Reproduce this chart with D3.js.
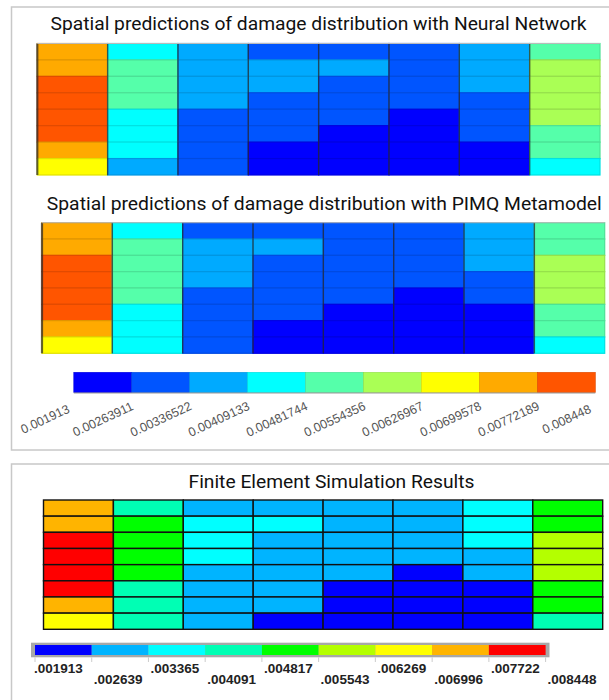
<!DOCTYPE html>
<html lang="en">
<head>
<meta charset="UTF-8">
<title>Damage distribution comparison</title>
<script src="https://d3js.org/d3.v7.min.js"></script>
<style>
  body { margin: 0; background: #fff; }
  svg { display: block; }
  .title { font-family: Roboto, sans-serif; font-size: 18px; fill: #111; }
  .cb-label { font-family: "Liberation Sans", Arial, sans-serif; font-size: 12.5px; fill: #555; }
  .fe-label { font-family: "Liberation Sans", Arial, sans-serif; font-size: 13.5px; font-weight: bold; fill: #222; }
</style>
</head>
<body>
<svg id="chart" width="609" height="700"></svg>
<script>
// ---- data ----
const vMin = 0.001913, vMax = 0.008448;

// level colours
const predColors = ["#0000ff", "#0055ff", "#00aaff", "#00ffff", "#55ffaa", "#aaff55", "#ffff00", "#ffaa00", "#ff5500"];
const feColors   = ["#0000ff", "#00b4ff", "#00ffff", "#00ffb4", "#00ff00", "#b4ff00", "#ffff00", "#ffb400", "#ff0000"];

const predTicks = ["0.001913", "0.00263911", "0.00336522", "0.00409133", "0.00481744",
                   "0.00554356", "0.00626967", "0.00699578", "0.00772189", "0.008448"];
const feTicks = [".001913", ".002639", ".003365", ".004091", ".004817",
                 ".005543", ".006269", ".006996", ".007722", ".008448"];

// damage values, 8 rows (top to bottom) x 8 columns
const nnValues = [
  [0.00736, 0.00445, 0.00373, 0.00300, 0.00300, 0.00300, 0.00373, 0.00518],
  [0.00736, 0.00518, 0.00373, 0.00373, 0.00373, 0.00300, 0.00373, 0.00591],
  [0.00808, 0.00518, 0.00373, 0.00373, 0.00300, 0.00300, 0.00373, 0.00591],
  [0.00808, 0.00518, 0.00373, 0.00300, 0.00300, 0.00300, 0.00300, 0.00591],
  [0.00808, 0.00445, 0.00300, 0.00300, 0.00300, 0.00228, 0.00300, 0.00591],
  [0.00808, 0.00445, 0.00300, 0.00300, 0.00228, 0.00228, 0.00300, 0.00518],
  [0.00736, 0.00445, 0.00300, 0.00228, 0.00228, 0.00228, 0.00228, 0.00518],
  [0.00663, 0.00373, 0.00300, 0.00228, 0.00228, 0.00228, 0.00228, 0.00445]
];

const pimqValues = [
  [0.00736, 0.00445, 0.00300, 0.00300, 0.00300, 0.00300, 0.00373, 0.00518],
  [0.00736, 0.00518, 0.00373, 0.00373, 0.00300, 0.00300, 0.00373, 0.00518],
  [0.00808, 0.00518, 0.00373, 0.00300, 0.00300, 0.00300, 0.00373, 0.00591],
  [0.00808, 0.00518, 0.00373, 0.00300, 0.00300, 0.00300, 0.00300, 0.00591],
  [0.00808, 0.00518, 0.00300, 0.00300, 0.00300, 0.00228, 0.00300, 0.00591],
  [0.00808, 0.00445, 0.00300, 0.00300, 0.00228, 0.00228, 0.00228, 0.00518],
  [0.00736, 0.00445, 0.00300, 0.00228, 0.00228, 0.00228, 0.00228, 0.00518],
  [0.00663, 0.00445, 0.00300, 0.00228, 0.00228, 0.00228, 0.00228, 0.00445]
];

const feValues = [
  [0.00736, 0.00445, 0.00300, 0.00300, 0.00300, 0.00300, 0.00373, 0.00518],
  [0.00736, 0.00518, 0.00373, 0.00373, 0.00300, 0.00300, 0.00373, 0.00518],
  [0.00808, 0.00518, 0.00373, 0.00300, 0.00300, 0.00300, 0.00373, 0.00591],
  [0.00808, 0.00518, 0.00373, 0.00300, 0.00300, 0.00300, 0.00300, 0.00591],
  [0.00808, 0.00518, 0.00300, 0.00300, 0.00300, 0.00228, 0.00300, 0.00591],
  [0.00808, 0.00445, 0.00300, 0.00300, 0.00228, 0.00228, 0.00228, 0.00518],
  [0.00736, 0.00445, 0.00300, 0.00300, 0.00228, 0.00228, 0.00228, 0.00518],
  [0.00663, 0.00445, 0.00300, 0.00228, 0.00228, 0.00228, 0.00228, 0.00445]
];

// ---- drawing ----
const svg = d3.select("#chart");

const predColor = d3.scaleQuantize().domain([vMin, vMax]).range(predColors);
const feColor = d3.scaleQuantize().domain([vMin, vMax]).range(feColors);

// panel frames (right side runs off the picture)
svg.append("rect").attr("x", 11.5).attr("y", 7).attr("width", 640).attr("height", 443)
  .attr("fill", "none").attr("stroke", "#c8c8c8").attr("stroke-width", 1.5);
svg.append("rect").attr("x", 11.5).attr("y", 464).attr("width", 640).attr("height", 300)
  .attr("fill", "none").attr("stroke", "#c8c8c8").attr("stroke-width", 1.5);

function title(text, cx, y, len) {
  svg.append("text").attr("class", "title")
    .attr("x", cx).attr("y", y).attr("text-anchor", "middle")
    .attr("textLength", len).attr("lengthAdjust", "spacingAndGlyphs")
    .text(text);
}

function predGrid(values, x0, x1, y0, y1) {
  const x = d3.scaleBand().domain(d3.range(8)).range([x0, x1]);
  const y = d3.scaleBand().domain(d3.range(8)).range([y0, y1]);
  const g = svg.append("g");
  values.forEach((row, r) => {
    g.selectAll(null).data(row).enter().append("rect")
      .attr("x", (d, c) => x(c)).attr("y", y(r))
      .attr("width", x.bandwidth()).attr("height", y.bandwidth())
      .attr("fill", d => predColor(d))
      .attr("stroke", d => d3.color(predColor(d)).darker(0.35))
      .attr("stroke-width", 1.2);
  });
  // column separators
  g.selectAll(".col").data(d3.range(8)).enter().append("line")
    .attr("x1", c => x(c)).attr("x2", c => x(c))
    .attr("y1", y0).attr("y2", y1)
    .attr("stroke", "rgba(40,40,40,0.7)").attr("stroke-width", c => c === 0 ? 2.2 : 1.4);
  g.append("line").attr("x1", x0).attr("x2", x1).attr("y1", y0).attr("y2", y0)
    .attr("stroke", "#bbb").attr("stroke-width", 1);
}

function feGrid(values, x0, x1, y0, y1) {
  const x = d3.scaleBand().domain(d3.range(8)).range([x0, x1]);
  const y = d3.scaleBand().domain(d3.range(8)).range([y0, y1]);
  const g = svg.append("g");
  values.forEach((row, r) => {
    g.selectAll(null).data(row).enter().append("rect")
      .attr("x", (d, c) => x(c)).attr("y", y(r))
      .attr("width", x.bandwidth()).attr("height", y.bandwidth())
      .attr("fill", d => feColor(d))
      .attr("stroke", "#111").attr("stroke-width", 1.4);
  });
}

title("Spatial predictions of damage distribution with Neural Network", 318.5, 30, 536);
predGrid(nnValues, 37.3, 600, 43.5, 175);

title("Spatial predictions of damage distribution with PIMQ Metamodel", 324.3, 210, 555);
predGrid(pimqValues, 42, 604.7, 222.7, 353.3);

// prediction colour bar
const cbX = d3.scaleLinear().domain([vMin, vMax]).range([73.8, 595.3]);
const predStep = (vMax - vMin) / predColors.length;
const cb = svg.append("g");
cb.selectAll("rect").data(predColors).enter().append("rect")
  .attr("x", (d, i) => cbX(vMin + i * predStep))
  .attr("y", 372.3)
  .attr("width", cbX(vMin + predStep) - cbX(vMin))
  .attr("height", 20.4)
  .attr("fill", d => d)
  .attr("stroke", d => d3.color(d).darker(0.4)).attr("stroke-width", 0.6);
cb.append("line").attr("x1", cbX(vMin)).attr("x2", cbX(vMax)).attr("y1", 393).attr("y2", 393)
  .attr("stroke", "#999").attr("stroke-width", 1);
cb.selectAll("text").data(predTicks).enter().append("text")
  .attr("class", "cb-label")
  .attr("text-anchor", "middle")
  .attr("transform", d => `translate(${cbX(+d) - 27},${423}) rotate(-25)`)
  .text(d => d);

title("Finite Element Simulation Results", 331.5, 488.3, 286);
feGrid(feValues, 43.5, 602.7, 500, 629.3);

// FE colour bar
const feX = d3.scaleLinear().domain([vMin, vMax]).range([35, 545.6]);
const feStep = (vMax - vMin) / feColors.length;
const fb = svg.append("g");
fb.append("rect").attr("x", 31).attr("y", 642.7).attr("width", 518.5).attr("height", 14.6)
  .attr("fill", "#a8a8a8");
fb.selectAll("rect.seg").data(feColors).enter().append("rect")
  .attr("class", "seg")
  .attr("x", (d, i) => feX(vMin + i * feStep))
  .attr("y", 645)
  .attr("width", feX(vMin + feStep) - feX(vMin))
  .attr("height", 10)
  .attr("fill", d => d);
fb.selectAll("line").data(feTicks).enter().append("line")
  .attr("x1", d => feX(+d)).attr("x2", d => feX(+d))
  .attr("y1", 657.3).attr("y2", 662)
  .attr("stroke", "#ccc").attr("stroke-width", 1);
fb.selectAll("text").data(feTicks).enter().append("text")
  .attr("class", "fe-label")
  .attr("x", (d, i) => feX(+d) + (i === 0 ? -1 : 2))
  .attr("y", (d, i) => i % 2 === 0 ? 672.7 : 684)
  .text(d => d);
</script>
</body>
</html>
